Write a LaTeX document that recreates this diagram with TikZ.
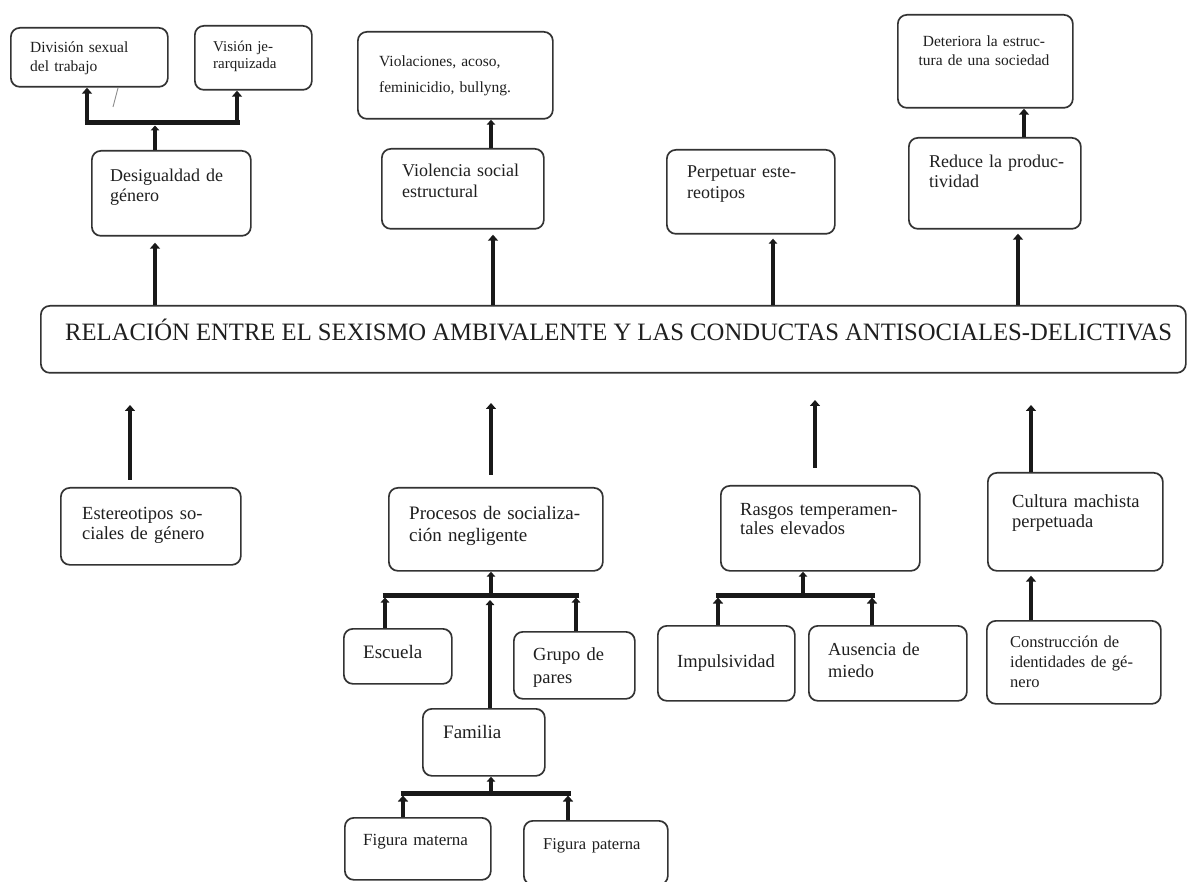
\documentclass[tikz,border=0pt]{standalone}
\usepackage{fontspec}
\setmainfont{Liberation Serif}
\usepackage{graphicx}
\usetikzlibrary{arrows.meta,calc}
\tikzset{
  box/.style={draw=black!80, line width=1.7pt, rounded corners=9pt, inner sep=0pt, fill=white},
  txt/.style={inner sep=0pt, text=black!88, align=left, anchor=base west},
  arr/.style={draw=black!90, line width=4.5pt, -{Triangle[width=10pt,length=6pt]}},
  arrthin/.style={arr, line width=3.5pt, -{Triangle[width=8.5pt,length=5pt]}},
  barline/.style={draw=black!90, line width=5pt},
}
\newcommand\mkbox[5]{\node[box, anchor=north west, minimum width={#4-#2}, minimum height={#5-#3}] (#1) at (#2,#3) {};}
\newcommand\fs[2]{\fontsize{#1}{#2}\selectfont}
\begin{document}
\begin{tikzpicture}[x=1pt,y=-1pt]
\useasboundingbox (0,0) rectangle (1187,882);
% ---------- boxes ----------
\mkbox{divis}{10}{27}{167}{86}
\mkbox{vision}{194}{25}{311}{89}
\mkbox{viol}{357}{31}{552}{118}
\mkbox{deter}{897}{14}{1072}{107}
\mkbox{desig}{91}{150}{250}{235}
\mkbox{violen}{381}{148}{543}{228}
\mkbox{perp}{666}{149}{834}{233}
\mkbox{reduce}{908}{137}{1080}{228}
\mkbox{main}{40}{305}{1185}{372}
\mkbox{est}{60}{487}{240}{564}
\mkbox{proc}{388}{487}{602}{570}
\mkbox{rasgos}{720}{485}{919}{570}
\mkbox{cult}{987}{472}{1162}{570}
\mkbox{esc}{343}{628}{451}{683}
\mkbox{grupo}{513}{631}{634}{698}
\mkbox{impul}{657}{625}{794}{700}
\mkbox{ausen}{808}{625}{966}{700}
\mkbox{constr}{986}{620}{1160}{703}
\mkbox{fam}{422}{708}{544}{775}
\mkbox{mat}{344}{817}{490}{879}
\mkbox{pat}{523}{820}{667}{884}
% ---------- texts ----------
\node[txt, font=\fs{15.5}{19}, text width=150pt] (divisT) at (30,53) {División sexual\\del trabajo};
\node[txt, font=\fs{15}{17}, text width=110pt] (visionT) at (213,52) {Visión je-\\rarquizada};
\node[txt, font=\fs{15.5}{26}, text width=180pt] (violT) at (379,67) {Violaciones, acoso,\\feminicidio, bullyng.};
\node[txt, font=\fs{15.5}{19}, text width=170pt, align=center, anchor=base] (deterT) at (984,47) {Deteriora la estruc-\\tura de una sociedad};
\node[txt, font=\fs{18}{20}, text width=150pt] (desigT) at (110,181.5) {Desigualdad de\\género};
\node[txt, font=\fs{18}{21}, text width=150pt] (violenT) at (402,176.5) {Violencia social\\estructural};
\node[txt, font=\fs{18}{21}, text width=150pt] (perpT) at (687,177.5) {Perpetuar este-\\reotipos};
\node[txt, font=\fs{18}{20}, text width=160pt] (reduceT) at (929,167.5) {Reduce la produc-\\tividad};
\node[txt, anchor=base west] (mainT) at (65,340.5) {\resizebox{1107pt}{\height}{\fs{25}{25}RELACIÓN ENTRE EL SEXISMO AMBIVALENTE Y LAS CONDUCTAS ANTISOCIALES-DELICTIVAS}};
\node[txt, font=\fs{18.5}{20}, text width=170pt] (estT) at (82,520) {Estereotipos so-\\ciales de género};
\node[txt, font=\fs{19}{22}, text width=200pt] (procT) at (409,520) {Procesos de socializa-\\ción negligente};
\node[txt, font=\fs{18.5}{20}, text width=190pt] (rasgosT) at (740,515) {Rasgos temperamen-\\tales elevados};
\node[txt, font=\fs{18.5}{20}, text width=160pt] (cultT) at (1012,508) {Cultura machista\\perpetuada};
\node[txt, font=\fs{19}{22}, text width=100pt] (escT) at (363,658) {Escuela};
\node[txt, font=\fs{18.5}{23}, text width=110pt] (grupoT) at (533,660) {Grupo de\\pares};
\node[txt, font=\fs{18.5}{22}, text width=130pt] (impulT) at (677,667) {Impulsividad};
\node[txt, font=\fs{18.3}{22}, text width=140pt] (ausenT) at (828,655) {Ausencia de\\miedo};
\node[txt, font=\fs{16.5}{20}, text width=160pt] (constrT) at (1010,647) {Construcción de\\identidades de gé-\\nero};
\node[txt, font=\fs{19}{22}, text width=110pt] (famT) at (443,738) {Familia};
\node[txt, font=\fs{17}{20}, text width=140pt] (matT) at (363,845) {Figura materna};
\node[txt, font=\fs{16.5}{20}, text width=140pt] (patT) at (543,849) {Figura paterna};
% ---------- reference x positions ----------
\coordinate (xDiv) at (87,0);   \coordinate (xVis) at (237,0);
\coordinate (xDes) at (155,0);  \coordinate (xVl) at (491,0);
\coordinate (xVm) at (493,0);   \coordinate (xPer) at (773,0);
\coordinate (xRedD) at (1024,0);\coordinate (xRed) at (1018,0);
\coordinate (xEst) at (130,0);  \coordinate (xProc) at (491,0);
\coordinate (xRas) at (815,0);  \coordinate (xRasB) at (803,0);
\coordinate (xCul) at (1031,0); \coordinate (xEsc) at (385,0);
\coordinate (xGru) at (576,0);  \coordinate (xFam) at (490,0);
\coordinate (xFamB) at (491,0); \coordinate (xMat) at (403,0);
\coordinate (xPat) at (568,0);  \coordinate (xImp) at (718,0);
\coordinate (xAus) at (872,0);
% ---------- bars ----------
\coordinate (b1L) at (84.5,123);  \coordinate (b1R) at (239.5,123);
\coordinate (b2L) at (382.5,595); \coordinate (b2R) at (578.5,595);
\coordinate (b3L) at (400.5,793); \coordinate (b3R) at (570.5,793);
\coordinate (b4L) at (715.5,595); \coordinate (b4R) at (874.5,595);
\draw[barline] (b1L) -- (b1R);
\draw[barline] (b2L) -- (b2R);
\draw[barline] (b3L) -- (b3R);
\draw[barline] (b4L) -- (b4R);
% ---------- free ends below main box ----------
\coordinate (tEst) at (130,405);
\coordinate (tProc) at (491,403);
\coordinate (tRas) at (815,400);
\coordinate (tCul) at (1031,405);
% ---------- top connectors ----------
\draw[arr] (b1L -| xDiv) -- (divis.south -| xDiv);
\draw[arr] (b1L -| xVis) -- (vision.south -| xVis);
\draw[arrthin] (desig.north -| xDes) -- ($(b1L -| xDes)+(0,2.5)$);
\draw[arr] (main.north -| xDes) -- ($(desig.south -| xDes)+(0,6)$);
\draw[arrthin] (violen.north -| xVl) -- (viol.south -| xVl);
\draw[arr] (main.north -| xVm) -- ($(violen.south -| xVm)+(0,5)$);
\draw[arrthin] (main.north -| xPer) -- ($(perp.south -| xPer)+(0,4)$);
\draw[arr] (reduce.north -| xRedD) -- (deter.south -| xRedD);
\draw[arr] (main.north -| xRed) -- ($(reduce.south -| xRed)+(0,4)$);
% stray mark
\draw[black!45, line width=0.9pt] (118,88) -- (113,107);
% ---------- bottom connectors ----------
\draw[arr] (est.north -| xEst) ++(0,-7) -- (tEst);
\draw[arr] (proc.north -| xProc) ++(0,-12) -- (tProc);
\draw[arr] (rasgos.north -| xRas) ++(0,-17) -- (tRas);
\draw[arr] (cult.north -| xCul) -- (tCul);
\draw[arrthin] (b2L -| xProc) -- (proc.south -| xProc);
\draw[arrthin] (esc.north -| xEsc) -- ($(b2L -| xEsc)+(0,2.5)$);
\draw[arrthin] (grupo.north -| xGru) -- ($(b2L -| xGru)+(0,2.5)$);
\draw[arrthin] (fam.north -| xFam) -- ($(b2L -| xFam)+(0,5)$);
\draw[arrthin] (b3L -| xFamB) -- (fam.south -| xFamB);
\draw[arr] (mat.north -| xMat) -- ($(b3L -| xMat)+(0,2.5)$);
\draw[arr] (pat.north -| xPat) -- ($(b3L -| xPat)+(0,2.5)$);
\draw[arrthin] (b4L -| xRasB) -- (rasgos.south -| xRasB);
\draw[arr] (impul.north -| xImp) -- ($(b4L -| xImp)+(0,2.5)$);
\draw[arr] (ausen.north -| xAus) -- ($(b4L -| xAus)+(0,2.5)$);
\draw[arr] (constr.north -| xCul) -- ($(cult.south -| xCul)+(0,4)$);
\end{tikzpicture}
\end{document}
